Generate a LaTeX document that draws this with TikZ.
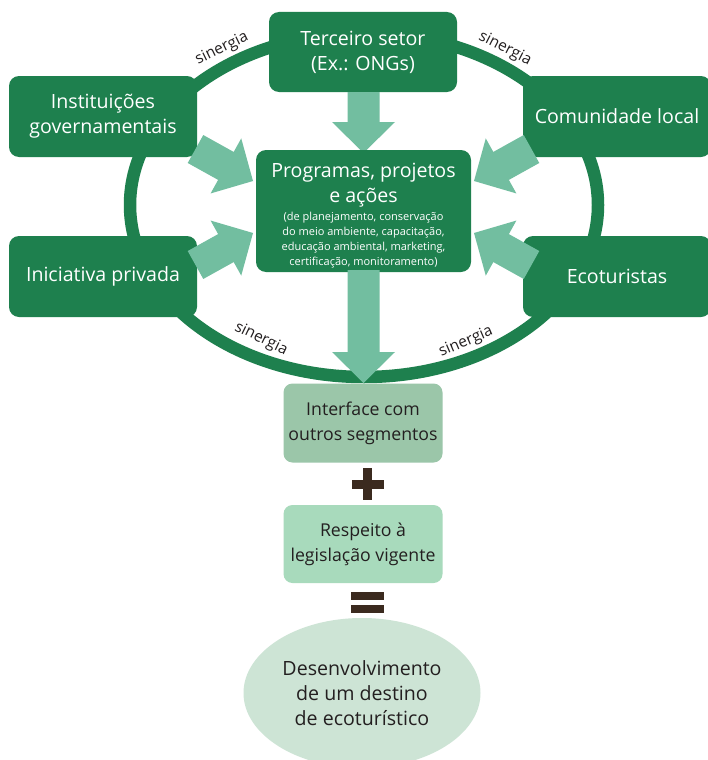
\documentclass[tikz,border=0pt]{standalone}
\usepackage{fontspec}
\setmainfont{Open Sans}
\usetikzlibrary{calc,shapes.geometric}
\definecolor{dgreen}{HTML}{1E804E}
\definecolor{arrowc}{HTML}{72BEA0}
\definecolor{ifacec}{HTML}{9BC6A9}
\definecolor{respc}{HTML}{A8DABC}
\definecolor{goalc}{HTML}{CDE4D5}
\definecolor{signc}{HTML}{3B2A1F}
\definecolor{darktext}{HTML}{231F20}
\tikzset{
  bigbox/.style={fill=dgreen, rounded corners=10pt, text=white, align=center, inner sep=0pt,
    font=\fontsize{19.6}{25}\selectfont},
  lightbox/.style={rounded corners=9pt, text=darktext, align=center, inner sep=0pt,
    font=\fontsize{17.7}{25}\selectfont, minimum width=159pt, minimum height=79pt},
  ringlabel/.style={font=\fontsize{15.5}{16}\selectfont, text=darktext, inner sep=0pt},
  signbar/.style={fill=signc},
}
\newcommand\fatarrow[2]{%
  \coordinate (fa-n) at ($(#2)!31pt!(#1)$);
  \fill[arrowc] ($(#1)!16pt!90:(#2)$) -- ($(fa-n)!16pt!90:(#2)$) -- ($(fa-n)!31.5pt!90:(#2)$)
    -- (#2) -- ($(fa-n)!31.5pt!-90:(#2)$) -- ($(fa-n)!16pt!-90:(#2)$) -- ($(#1)!16pt!-90:(#2)$) -- cycle;}
\begin{document}
\begin{tikzpicture}[x=1pt, y=-1pt]
\useasboundingbox[fill=white] (0,0) rectangle (707,760);
% synergy ring
\draw[dgreen, line width=12.5pt] (364,205) ellipse [x radius=234pt, y radius=172pt];
% boxes (positions)
\node[bigbox, minimum width=188pt, minimum height=80pt] (ter) at (363,52) {Terceiro setor\\(Ex.: ONGs)};
\node[bigbox, minimum width=188pt, minimum height=81pt] (inst) at (103,116.5) {Instituições\\governamentais};
\node[bigbox, minimum width=188pt, minimum height=81pt] (inic) at (103,276.5) {Iniciativa privada};
\node[bigbox, minimum width=188pt, minimum height=81pt] (com) at (617,116.5) {Comunidade local};
\node[bigbox, minimum width=188pt, minimum height=81pt] (eco) at (617,276.5) {Ecoturistas};
% arrow end points
\coordinate (a1t) at (195.5,149); \coordinate (a1h) at (253,181);
\coordinate (a2t) at (195.5,265); \coordinate (a2h) at (253,233);
\coordinate (a3t) at (531.5,149); \coordinate (a3h) at (474,181);
\coordinate (a4t) at (531.5,265); \coordinate (a4h) at (474,233);
\coordinate (v1t) at (363.5,92); \coordinate (v1h) at (363.5,153);
\coordinate (v2t) at (363.5,270); \coordinate (v2h) at (363.5,383);
\fatarrow{a1t}{a1h}
\fatarrow{a2t}{a2h}
\fatarrow{a3t}{a3h}
\fatarrow{a4t}{a4h}
\fatarrow{v1t}{v1h}
% central box
\node[bigbox, minimum width=215pt, minimum height=122pt] (prog) at (363.5,211) {};
\node[text=white, align=center, inner sep=0pt, font=\fontsize{19.6}{25}\selectfont] (progt) at (363.5,185) {Programas, projetos\\e ações};
\node[text=white, align=center, inner sep=0pt, font=\fontsize{11}{15}\selectfont] (progs) at (363.5,240) {(de planejamento, conservação\\do meio ambiente, capacitação,\\educação ambiental, marketing,\\certificação, monitoramento)};
% lower chain
\fatarrow{v2t}{v2h}
\node[lightbox, fill=ifacec] (int) at (363,423) {Interface com\\outros segmentos};
\fill[signbar] (351.5,480) rectangle (383.5,488.5);
\fill[signbar] (362.5,468) rectangle (372,500);
\node[lightbox, fill=respc, minimum height=78pt] (resp) at (363,544) {Respeito à\\legislação vigente};
\fill[signbar] (350.5,592) rectangle (383.5,600);
\fill[signbar] (350.5,605) rectangle (383.5,612.5);
\node[ellipse, fill=goalc, minimum width=237pt, minimum height=150pt, inner sep=0pt, align=center,
  text=darktext, font=\fontsize{19.6}{25}\selectfont] (goal) at (362,693) {Desenvolvimento\\de um destino\\de ecoturístico};
% synergy labels
\node[ringlabel, rotate=26] (s1) at (222,49) {sinergia};
\node[ringlabel, rotate=-27] (s2) at (505,49) {sinergia};
\node[ringlabel, rotate=-26] (s3) at (261,339) {sinergia};
\node[ringlabel, rotate=23] (s4) at (466,342) {sinergia};
\end{tikzpicture}
\end{document}
